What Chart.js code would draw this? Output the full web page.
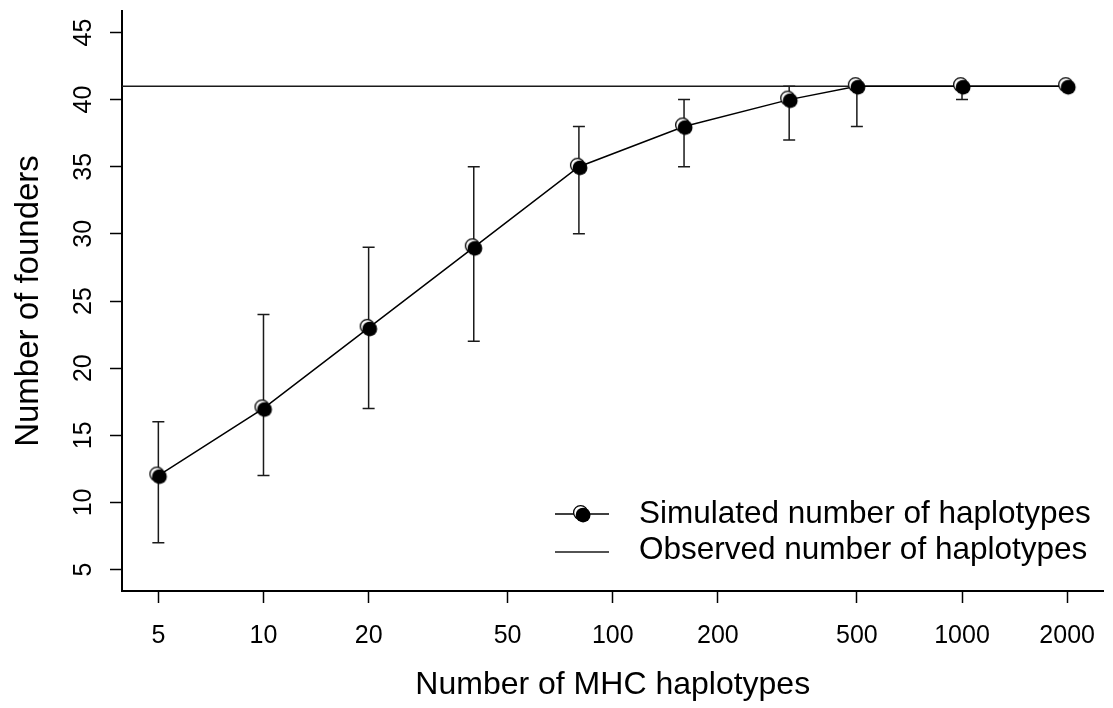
<!DOCTYPE html>
<html>
<head>
<meta charset="utf-8">
<script src="https://cdn.jsdelivr.net/npm/chart.js@4.4.1/dist/chart.umd.min.js"></script>
<style>
  html, body { margin: 0; padding: 0; background: #fff; }
</style>
</head>
<body>
<canvas id="chart" width="1113" height="708"></canvas>
<script>
const haplotypes = [5, 10, 20, 40, 80, 160, 320, 500, 1000, 2000];
const founders = [12, 17, 23, 29, 35, 38, 40, 41, 41, 41];
const foundersLow = [7, 12, 17, 22, 30, 35, 37, 38, 40, 41];
const foundersHigh = [16, 24, 29, 35, 38, 40, 41, 41, 41, 41];
const observedX = [1, 2000];
const observedY = [41, 41];
const xTicks = [5, 10, 20, 50, 100, 200, 500, 1000, 2000];
const yTicks = [5, 10, 15, 20, 25, 30, 35, 40, 45];
const yLimits = [5, 45];

const FONT = "'Liberation Sans', Arial, sans-serif";

// R style axis ranges: 4% extra on each side
const logSpan = Math.log10(haplotypes[haplotypes.length - 1] / haplotypes[0]);
const xMin = haplotypes[0] / Math.pow(10, 0.04 * logSpan);
const xMax = haplotypes[haplotypes.length - 1] * Math.pow(10, 0.04 * logSpan);
const yPad = 0.04 * (yLimits[1] - yLimits[0]);

// the point glyph: a hollow ring peeking out from behind a filled dot
function makeDot() {
  const c = document.createElement('canvas');
  c.width = 24; c.height = 24;
  const g = c.getContext('2d');
  g.lineWidth = 1.3;
  g.strokeStyle = '#000';
  g.fillStyle = '#fff';
  g.beginPath(); g.arc(10.6, 10.6, 7, 0, Math.PI * 2); g.fill(); g.stroke();
  g.fillStyle = '#000';
  g.beginPath(); g.arc(13.1, 13.1, 7.4, 0, Math.PI * 2); g.fill();
  return c;
}
const dot = makeDot();

const errorBars = {
  id: 'errorBars',
  beforeDatasetsDraw(chart) {
    const { ctx, scales: { x, y } } = chart;
    ctx.save();
    ctx.strokeStyle = '#1a1a1a';
    ctx.lineWidth = 1.5;
    haplotypes.forEach((h, i) => {
      if (foundersLow[i] === foundersHigh[i]) return;
      const px = x.getPixelForValue(h);
      const top = y.getPixelForValue(foundersHigh[i]);
      const bot = y.getPixelForValue(foundersLow[i]);
      ctx.beginPath();
      ctx.moveTo(px, top); ctx.lineTo(px, bot);
      ctx.moveTo(px - 6, top); ctx.lineTo(px + 6, top);
      ctx.moveTo(px - 6, bot); ctx.lineTo(px + 6, bot);
      ctx.stroke();
    });
    ctx.restore();
  }
};

// tick labels drawn by hand so they don't push the plot area in;
// y ones read upward, like R's default
const tickLabels = {
  id: 'tickLabels',
  afterDraw(chart) {
    const { ctx, scales: { x, y } } = chart;
    ctx.save();
    ctx.fillStyle = '#000';
    ctx.font = '25px ' + FONT;
    ctx.textAlign = 'center';
    ctx.textBaseline = 'middle';
    x.ticks.forEach(t => {
      ctx.fillText(String(t.value), x.getPixelForValue(t.value), x.top + 45);
    });
    y.ticks.forEach(t => {
      ctx.save();
      ctx.translate(y.right - 38, y.getPixelForValue(t.value));
      ctx.rotate(-Math.PI / 2);
      ctx.fillText(String(t.value), 0, 0);
      ctx.restore();
    });
    ctx.restore();
  }
};

const boxLegend = {
  id: 'boxLegend',
  afterDraw(chart) {
    const ctx = chart.ctx;
    const sets = chart.data.datasets;
    const x0 = 555, x1 = 609, tx = 639;
    const lineRows = [514, 552];
    const textRows = [514, 550];
    ctx.save();
    ctx.font = '31.5px ' + FONT;
    ctx.fillStyle = '#000';
    ctx.textBaseline = 'middle';
    sets.forEach((ds, i) => {
      ctx.strokeStyle = ds.borderColor;
      ctx.lineWidth = ds.borderWidth;
      ctx.beginPath(); ctx.moveTo(x0, lineRows[i]); ctx.lineTo(x1, lineRows[i]); ctx.stroke();
      if (ds.pointStyle === dot) ctx.drawImage(dot, (x0 + x1) / 2 - 12, lineRows[i] - 12);
      ctx.fillText(ds.label, tx, textRows[i]);
    });
    ctx.restore();
  }
};

const axisLook = {
  grid: { drawOnChartArea: false, drawTicks: true, tickLength: 12, tickWidth: 1.5, tickColor: '#000' },
  border: { display: true, color: '#000', width: 2 },
  ticks: { display: false }
};

new Chart(document.getElementById('chart'), {
  type: 'line',
  data: {
    datasets: [
      {
        label: 'Simulated number of haplotypes',
        data: haplotypes.map((h, i) => ({ x: h, y: founders[i] })),
        borderColor: '#000',
        borderWidth: 1.5,
        pointStyle: dot,
        pointRadius: 8,
        tension: 0
      },
      {
        label: 'Observed number of haplotypes',
        data: observedX.map((h, i) => ({ x: h, y: observedY[i] })),
        borderColor: '#1a1a1a',
        borderWidth: 1.5,
        pointRadius: 0
      }
    ]
  },
  options: {
    responsive: false,
    animation: false,
    devicePixelRatio: 1,
    layout: { padding: { top: 11, right: 5, left: 0, bottom: 0 } },
    plugins: { legend: { display: false }, tooltip: { enabled: false } },
    scales: {
      x: {
        type: 'logarithmic',
        min: xMin,
        max: xMax,
        afterBuildTicks: s => { s.ticks = xTicks.map(v => ({ value: v })); },
        afterFit: s => { s.height = 117; },
        ...axisLook,
        title: {
          display: true, text: 'Number of MHC haplotypes', color: '#000',
          font: { family: FONT, size: 32 }, padding: { top: 0, bottom: 4 }
        }
      },
      y: {
        type: 'linear',
        min: yLimits[0] - yPad,
        max: yLimits[1] + yPad,
        afterBuildTicks: s => { s.ticks = yTicks.map(v => ({ value: v })); },
        afterFit: s => { s.width = 122; },
        ...axisLook,
        title: {
          display: true, text: 'Number of founders', color: '#000',
          font: { family: FONT, size: 33 }, padding: { top: 9, bottom: 0 }
        }
      }
    }
  },
  plugins: [errorBars, tickLabels, boxLegend]
});
</script>
</body>
</html>
